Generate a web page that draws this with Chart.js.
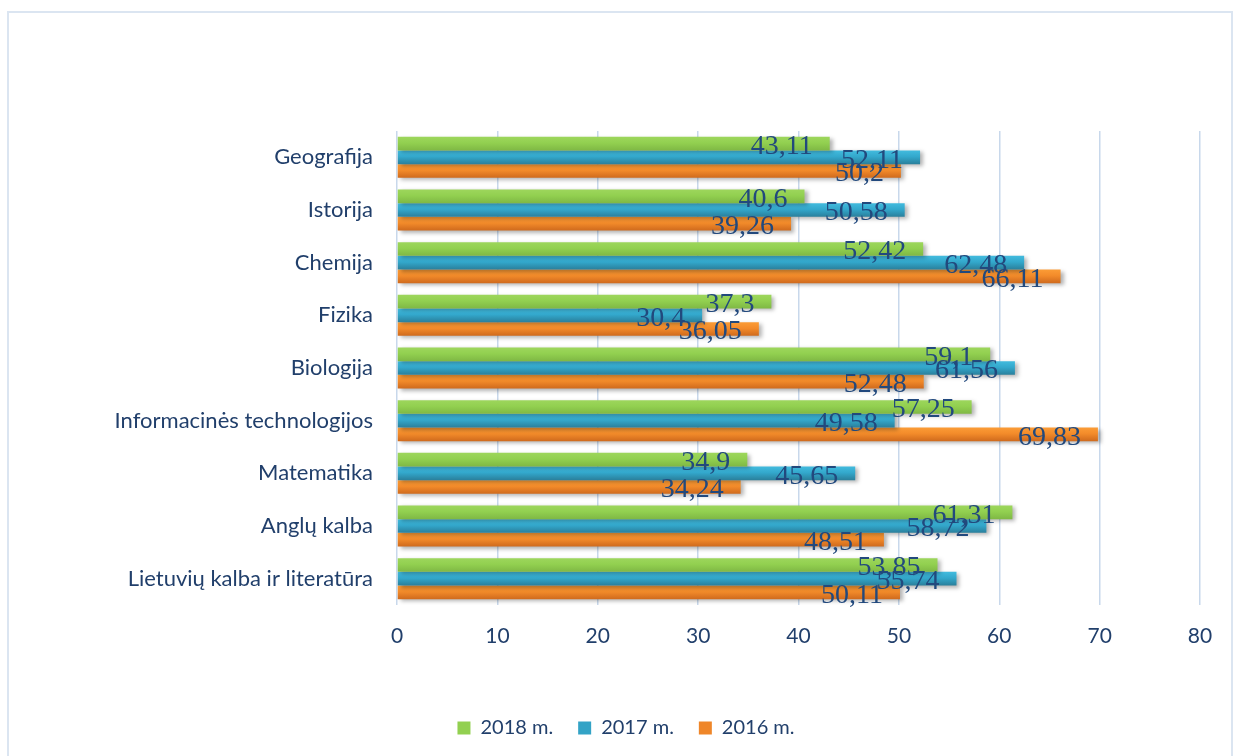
<!DOCTYPE html>
<html>
<head>
<meta charset="utf-8">
<script src="https://cdn.jsdelivr.net/npm/chart.js@4/dist/chart.umd.min.js"></script>
<style>
  html, body { margin: 0; padding: 0; background: #ffffff; }
  #wrap { position: relative; width: 1239px; height: 756px; overflow: hidden; }
  #frame { position: absolute; left: 7px; top: 11px; width: 1226px; height: 800px; border: 2px solid #dbe5f1; box-sizing: border-box; }
  canvas { position: absolute; left: 0; top: 0; }
</style>
</head>
<body>
<div id="wrap">
  <div id="frame"></div>
  <canvas id="c" width="1239" height="756"></canvas>
</div>
<script>
const categories = [
  'Geografija',
  'Istorija',
  'Chemija',
  'Fizika',
  'Biologija',
  'Informacinės technologijos',
  'Matematika',
  'Anglų kalba',
  'Lietuvių kalba ir literatūra'
];
const seriesNames = ['2018 m.', '2017 m.', '2016 m.'];
const values2018 = [43.11, 40.6, 52.42, 37.3, 59.1, 57.25, 34.9, 61.31, 53.85];
const values2017 = [52.11, 50.58, 62.48, 30.4, 61.56, 49.58, 45.65, 58.72, 55.74];
const values2016 = [50.2, 39.26, 66.11, 36.05, 52.48, 69.83, 34.24, 48.51, 50.11];
const xMin = 0, xMax = 80, xStep = 10;

const CAT_PCT = 0.78;
const colorStops = [
  ['#9dd65c', '#92d050', '#7fb844'],
  ['#42bbde', '#33a8cc', '#2a7f9b'],
  ['#fb9c36', '#f38b2a', '#cf6a1d']
];
const legendColors = ['#92d050', '#33a3c6', '#ef8629'];

function barGradient(stops) {
  return function(ctx) {
    const chart = ctx.chart;
    const y = chart.scales && chart.scales.y;
    if (!y || ctx.type !== 'data') return stops[1];
    const center = y.getPixelForValue(ctx.dataIndex);
    const band = (y.bottom - y.top) / categories.length;
    const group = band * CAT_PCT;
    const h = group / 3;
    const top = center - group / 2 + ctx.datasetIndex * h;
    if (!isFinite(top) || !isFinite(h) || h <= 0) return stops[1];
    const g = chart.ctx.createLinearGradient(0, top, 0, top + h);
    g.addColorStop(0, stops[0]);
    g.addColorStop(0.45, stops[1]);
    g.addColorStop(1, stops[2]);
    return g;
  };
}

const shadowPlugin = {
  id: 'barShadow',
  beforeDatasetDraw(chart) {
    const c = chart.ctx;
    c.save();
    c.shadowColor = 'rgba(0,0,0,0.30)';
    c.shadowBlur = 4;
    c.shadowOffsetX = 3;
    c.shadowOffsetY = 2;
  },
  afterDatasetDraw(chart) {
    chart.ctx.restore();
  }
};

const labelPlugin = {
  id: 'valueLabels',
  afterDatasetsDraw(chart) {
    const c = chart.ctx;
    c.save();
    c.font = '28px "Liberation Serif", "Times New Roman", serif';
    c.fillStyle = '#22497d';
    c.textAlign = 'right';
    c.textBaseline = 'middle';
    chart.data.datasets.forEach((ds, i) => {
      const meta = chart.getDatasetMeta(i);
      meta.data.forEach((bar, j) => {
        const txt = String(ds.data[j]).replace('.', ',');
        c.fillText(txt, bar.x - 17, bar.y + 3);
      });
    });
    c.restore();
  }
};

const seriesValues = [values2018, values2017, values2016];

new Chart(document.getElementById('c'), {
  type: 'bar',
  data: {
    labels: categories,
    datasets: seriesNames.map((name, i) => ({
      label: name,
      data: seriesValues[i],
      backgroundColor: barGradient(colorStops[i]),
      borderWidth: 0,
      categoryPercentage: CAT_PCT,
      barPercentage: 1.0
    }))
  },
  options: {
    indexAxis: 'y',
    responsive: false,
    animation: false,
    events: [],
    layout: { padding: { top: 131, right: 39, bottom: 8, left: 52 } },
    scales: {
      x: {
        min: xMin,
        max: xMax,
        ticks: {
          stepSize: xStep,
          color: '#213f6b',
          font: { family: 'Lato', size: 21 },
          padding: 19
        },
        grid: { color: '#c8d8eb', lineWidth: 1.5, drawTicks: false },
        border: { display: false },
        afterFit(scale) { scale.height = 88; }
      },
      y: {
        ticks: {
          color: '#213f6b',
          font: { family: 'Lato', size: 22 },
          padding: 24
        },
        grid: { display: false, drawTicks: false },
        border: { display: false },
        afterFit(scale) { scale.width = 345; }
      }
    },
    plugins: {
      tooltip: { enabled: false },
      legend: {
        position: 'bottom',
        labels: {
          color: '#213f6b',
          font: { family: 'Lato', size: 20 },
          boxWidth: 13,
          boxHeight: 13,
          padding: 25,
          generateLabels(chart) {
            return chart.data.datasets.map((ds, i) => ({
              text: ds.label,
              fillStyle: legendColors[i],
              strokeStyle: legendColors[i],
              lineWidth: 0,
              hidden: false,
              datasetIndex: i,
              fontColor: '#213f6b'
            }));
          }
        }
      }
    }
  },
  plugins: [shadowPlugin, labelPlugin]
});
</script>
</body>
</html>
